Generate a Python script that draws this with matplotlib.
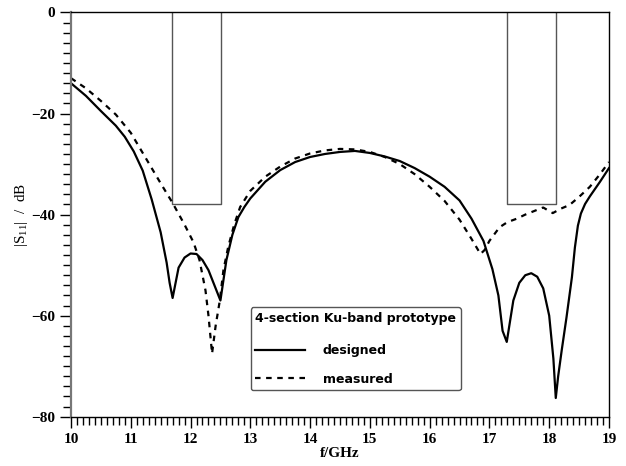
import matplotlib
matplotlib.use("Agg")
import matplotlib.pyplot as plt
from matplotlib.ticker import MultipleLocator

# Кривая расчёта (designed)
f_designed = [10.0, 10.25, 10.5, 10.75, 10.9, 11.05, 11.2, 11.35, 11.5, 11.6, 11.65, 11.70,
              11.8, 11.9, 12.0, 12.1, 12.2, 12.3, 12.4, 12.5, 12.6, 12.7, 12.8, 12.9,
              13.0, 13.25, 13.5, 13.75, 14.0, 14.25, 14.5, 14.75, 15.0, 15.25, 15.5,
              15.75, 16.0, 16.25, 16.5, 16.7, 16.9, 17.05, 17.15, 17.22, 17.29, 17.4,
              17.5, 17.6, 17.7, 17.8, 17.9, 18.0, 18.07, 18.11, 18.15, 18.21, 18.29,
              18.38, 18.43, 18.48, 18.53, 18.6, 18.68, 18.85, 19.0]
s11_designed = [-14.0, -16.5, -19.5, -22.4, -24.6, -27.5, -31.3, -37.0, -43.5, -49.5, -53.5, -56.5,
                -50.5, -48.5, -47.7, -47.8, -49.0, -51.0, -54.0, -57.0, -49.0, -44.0, -40.5, -38.5,
                -36.8, -33.5, -31.2, -29.6, -28.6, -28.0, -27.6, -27.4, -27.8, -28.5, -29.4,
                -30.8, -32.5, -34.5, -37.2, -40.8, -45.2, -50.8, -56.0, -63.0, -65.2, -57.0,
                -53.5, -52.0, -51.6, -52.3, -54.6, -60.0, -68.5, -76.3, -72.0, -66.8, -60.3,
                -52.4, -46.5, -42.2, -39.8, -37.9, -36.4, -33.5, -30.8]

# Измерения (measured)
f_measured = [10.0, 10.25, 10.5, 10.75, 11.0, 11.25, 11.5, 11.7, 11.9, 12.05, 12.15, 12.25,
              12.3, 12.36, 12.42, 12.49, 12.55, 12.63, 12.73, 12.83, 13.0, 13.25, 13.5,
              13.75, 14.0, 14.25, 14.5, 14.75, 15.0, 15.25, 15.5, 15.75, 16.0, 16.25,
              16.5, 16.7, 16.85, 16.92, 17.0, 17.17, 17.3, 17.46, 17.6, 17.79, 17.9,
              18.0, 18.06, 18.2, 18.34, 18.5, 18.68, 18.85, 19.0]
s11_measured = [-13.0, -15.0, -17.5, -20.2, -23.8, -28.8, -33.8, -37.7, -42.0, -45.5, -49.0, -55.0,
                -60.0, -67.5, -62.0, -57.0, -51.0, -46.4, -42.0, -38.5, -35.3, -32.5, -30.5,
                -28.9, -27.9, -27.3, -27.0, -27.1, -27.6, -28.6, -30.0, -32.0, -34.5, -37.3,
                -41.0, -44.8, -47.8, -47.0, -45.2, -42.5, -41.5, -40.8, -40.0, -39.1, -38.6,
                -39.3, -39.7, -38.8, -38.1, -36.5, -34.5, -32.0, -29.6]

# Полосы пропускания (маска)
band_lo = [11.69, 17.29]
band_hi = [12.51, 18.11]
mask_level = -38

fig = plt.figure(figsize=(6.26, 4.66), dpi=100)
ax = fig.add_axes([0.1134, 0.1058, 0.8594, 0.8674])

for lo, hi in zip(band_lo, band_hi):
    ax.plot([lo, lo, hi, hi], [0, mask_level, mask_level, 0], color='#555555', lw=1)

ax.plot(f_designed, s11_designed, color='black', lw=1.6, label='designed')
ax.plot(f_measured, s11_measured, color='black', lw=1.6, ls=(0, (2.5, 2.5)), label='measured')

ax.set_xlim(10, 19)
ax.set_ylim(-80, 0)
ax.xaxis.set_major_locator(MultipleLocator(1))
ax.xaxis.set_minor_locator(MultipleLocator(0.1))
ax.yaxis.set_major_locator(MultipleLocator(20))
ax.yaxis.set_minor_locator(MultipleLocator(2))
ax.tick_params(which='major', direction='out', length=8, width=1, labelsize=11)
ax.tick_params(which='minor', direction='out', length=6, width=1)
for lab in ax.get_xticklabels() + ax.get_yticklabels():
    lab.set_fontfamily('Liberation Serif')
    lab.set_fontweight('bold')
ax.spines['left'].set_color('#777777')
ax.spines['left'].set_linewidth(1.6)
for s in ['top', 'right', 'bottom']:
    ax.spines[s].set_linewidth(1)

ax.set_xlabel('f/GHz', fontfamily='Liberation Serif', fontweight='bold', fontsize=11, labelpad=1)
ax.set_ylabel(r'|S$_{\mathregular{11}}$|  /  dB', fontfamily='Liberation Serif', fontsize=11, labelpad=1)

leg = ax.legend(title='4-section Ku-band prototype', loc='lower left',
                bbox_to_anchor=(0.3346, 0.066), borderaxespad=0, fancybox=True, framealpha=1,
                edgecolor='#555555', handlelength=4.0, handletextpad=1.4,
                labelspacing=1.25, borderpad=0.35,
                prop={'family': 'DejaVu Sans', 'weight': 'bold', 'size': 9})
leg.get_title().set_fontfamily('DejaVu Sans')
leg.get_title().set_fontweight('bold')
leg.get_title().set_fontsize(9)
leg._legend_box.align = 'left'
leg._legend_box.sep = 14

fig.savefig('out.png', dpi=100)
